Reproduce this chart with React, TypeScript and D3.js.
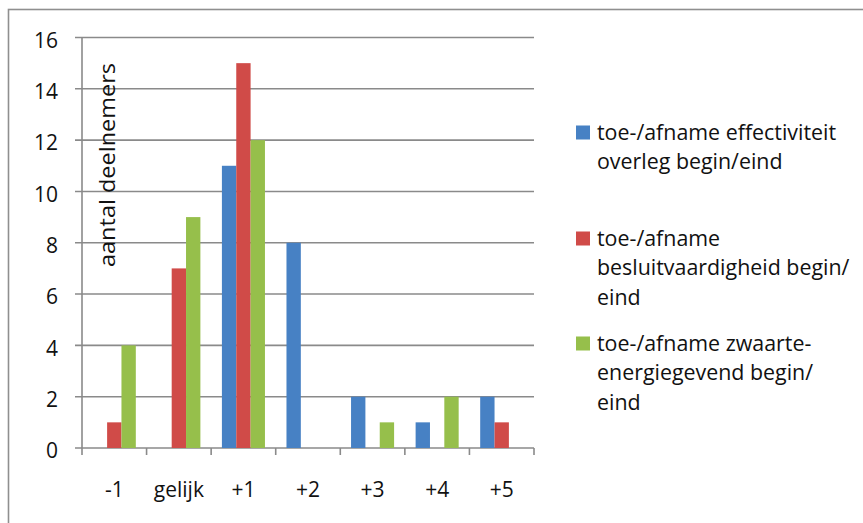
import React from "react";
import * as d3 from "d3";

const categories = ["-1", "gelijk", "+1", "+2", "+3", "+4", "+5"];
const seriesNames = [
  "toe-/afname effectiviteit overleg begin/eind",
  "toe-/afname besluitvaardigheid begin/eind",
  "toe-/afname zwaarte-energiegevend begin/eind",
];
const effectiviteit = [0, 0, 11, 8, 2, 1, 2];
const besluitvaardigheid = [1, 7, 15, 0, 0, 0, 1];
const zwaarte = [4, 9, 12, 0, 1, 2, 0];
const yTicks = [0, 2, 4, 6, 8, 10, 12, 14, 16];
const legendLines = [
  ["toe-/afname effectiviteit", "overleg begin/eind"],
  ["toe-/afname", "besluitvaardigheid begin/", "eind"],
  ["toe-/afname zwaarte-", "energiegevend begin/", "eind"],
];
const yTitle = "aantal deelnemers";
const colors = ["#4781C4", "#D04B48", "#96BF4B"];

const W = 863;
const H = 523;
const FONT = "'Open Sans', sans-serif";

export default function App() {
  const seriesValues = [effectiviteit, besluitvaardigheid, zwaarte];
  const left = 82;
  const right = 534;
  const top = 37.5;
  const bottom = 448;

  const x0 = d3.scaleBand<string>().domain(categories).range([left, right]).padding(0);
  const x1 = d3
    .scaleBand<number>()
    .domain([0, 1, 2])
    .range([0, x0.bandwidth()])
    .paddingInner(0)
    .paddingOuter(0.75);
  const y = d3.scaleLinear().domain([0, 16]).range([bottom, top]);

  const boundaries = categories.map((c) => x0(c) as number).concat([right]);

  const legendSquareX = 576;
  const legendTextX = 597;
  const legendFirstBaselines = [139.5, 245.5, 350.5];
  const lineH = 29.5;

  return (
    <svg
      width={W}
      height={H}
      style={{ position: "absolute", left: 0, top: 0, background: "#fff" }}
      fontFamily={FONT}
    >
      <rect x={0} y={0} width={W} height={H} fill="#fff" />
      {/* outer frame */}
      <rect x={8.5} y={9.5} width={2000} height={2000} fill="none" stroke="#8f8f8f" strokeWidth={1.6} />

      {/* gridlines */}
      {yTicks.map((t) => (
        <line
          key={"g" + t}
          x1={left - 7}
          x2={right}
          y1={y(t)}
          y2={y(t)}
          stroke="#8a8a8a"
          strokeWidth={1.6}
        />
      ))}
      {/* y axis */}
      <line x1={left} x2={left} y1={top} y2={bottom} stroke="#8a8a8a" strokeWidth={1.6} />
      {/* x ticks */}
      {boundaries.map((bx, i) => (
        <line key={"xt" + i} x1={bx} x2={bx} y1={bottom} y2={bottom + 7} stroke="#8a8a8a" strokeWidth={1.6} />
      ))}

      {/* bars */}
      {categories.map((c, ci) =>
        seriesValues.map((vals, si) =>
          vals[ci] > 0 ? (
            <rect
              key={c + si}
              x={(x0(c) as number) + (x1(si) as number)}
              y={y(vals[ci])}
              width={x1.bandwidth()}
              height={y(0) - y(vals[ci])}
              fill={colors[si]}
            />
          ) : null
        )
      )}

      {/* y labels */}
      {yTicks.map((t) => (
        <text key={"yl" + t} x={58} y={y(t) + 10.3} textAnchor="end" fontSize={21} fill="#111">
          {t}
        </text>
      ))}
      {/* x labels */}
      {categories.map((c) => (
        <text
          key={"xl" + c}
          x={(x0(c) as number) + x0.bandwidth() / 2}
          y={497}
          textAnchor="middle"
          fontSize={21}
          fill="#111"
        >
          {c}
        </text>
      ))}

      {/* y title */}
      <text
        transform={`translate(115,165) rotate(-90)`}
        textAnchor="middle"
        fontSize={21}
        fill="#111"
        textLength={204}
        lengthAdjust="spacingAndGlyphs"
      >
        {yTitle}
      </text>

      {/* legend */}
      {legendLines.map((lines, si) => (
        <g key={"lg" + si}>
          <rect
            x={legendSquareX}
            y={legendFirstBaselines[si] - 14}
            width={14}
            height={14}
            fill={colors[si]}
          >
            <title>{seriesNames[si]}</title>
          </rect>
          {lines.map((ln, li) => (
            <text
              key={li}
              x={legendTextX}
              y={legendFirstBaselines[si] + li * lineH}
              fontSize={21.4}
              fill="#111"
            >
              {ln}
            </text>
          ))}
        </g>
      ))}
    </svg>
  );
}
